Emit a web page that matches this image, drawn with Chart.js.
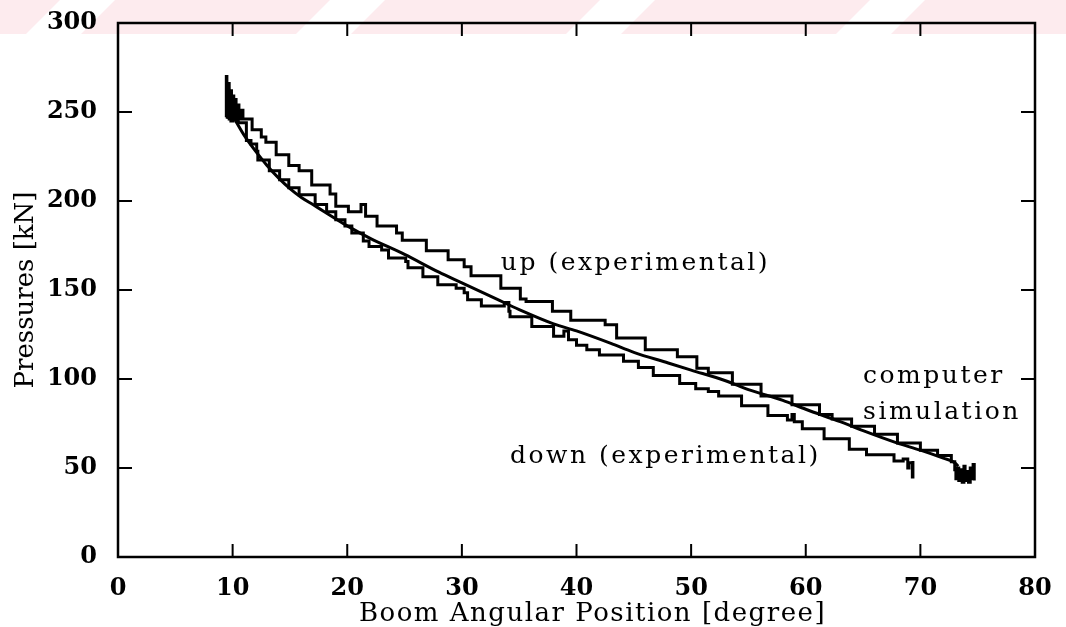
<!DOCTYPE html>
<html>
<head>
<meta charset="utf-8">
<script src="https://cdn.jsdelivr.net/npm/chart.js@4.4.1/dist/chart.umd.min.js"></script>
<style>
  html, body { margin: 0; padding: 0; background: #fff; }
  #wrap { width: 1066px; height: 627px; position: relative; }
</style>
</head>
<body>
<div id="wrap"><canvas id="grafica"></canvas></div>
<script>
// --- DATOS ---
const xTicks = [0, 10, 20, 30, 40, 50, 60, 70, 80];
const yTicks = [0, 50, 100, 150, 200, 250, 300];

// simulación (curva suave)
const simX = [10, 11, 12, 13, 14, 15, 16, 17, 18, 20, 22, 25, 28, 30, 33, 35, 38, 40, 43, 45, 48, 50, 53, 55, 58, 60, 63, 65, 68, 70, 72, 73, 73.3];
const simY = [248, 237, 228, 220, 213, 207, 202, 198, 194, 186, 179, 170, 160, 154, 145, 139, 131, 127, 120, 115, 109, 105, 99, 94, 88, 83, 76, 71, 64, 60, 55.5, 53, 51];

// subida (experimental) - escalones: x donde cambia, nuevo nivel
const upX = [9.4, 9.45, 9.5, 9.6, 9.7, 9.8, 9.9, 10.0, 10.1, 10.2, 10.3, 10.45, 10.55, 10.7, 10.9,
  11.7, 12.5, 12.9, 13.8, 14.9, 15.8, 16.9, 18.5, 19.0, 20.1, 21.2, 21.6, 22.6, 24.3, 24.8, 26.9,
  28.8, 30.2, 30.8, 33.4, 35.1, 35.6, 37.9, 39.5, 42.5, 43.5, 46.0, 48.8, 50.5, 51.5, 53.6, 56.1,
  58.8, 61.2, 62.3, 64, 66, 68, 70, 71.5, 72.7, 73.0, 73.1, 73.2, 73.35, 73.5, 73.65, 73.8, 73.9,
  74.05, 74.2, 74.35, 74.5, 74.6, 74.7];
const upY = [247, 270, 249, 266, 246, 262, 248, 259, 246, 257, 245, 254, 246, 251, 246,
  240, 236, 233, 226, 220, 217, 209, 204, 197, 194, 198, 191.5, 186, 182, 178, 172,
  167, 163, 158, 151, 145, 143.5, 138, 133, 130.5, 123, 116.5, 112.5, 106, 103.5, 97, 90.5,
  85.5, 80, 77.5, 73.5, 69, 64, 60, 57, 53.5, 49, 44, 50, 43, 49, 42, 51, 43,
  48, 42, 50, 44, 52, 43];

// bajada (experimental)
const downX = [9.5, 9.55, 9.65, 9.75, 9.85, 10.0, 10.1, 10.25, 10.4,
  10.5, 11.2, 11.6, 12.1, 12.2, 13.2, 14.1, 14.9, 15.8, 17.2, 18.2, 19.0, 19.8, 20.4, 21.4, 21.9,
  23.0, 23.6, 25.1, 25.3, 26.6, 27.9, 29.5, 30.2, 30.5, 31.7, 33.7, 34.1, 34.2, 36.1, 38.0, 38.9,
  39.3, 40.0, 40.9, 42.0, 44.1, 45.4, 46.7, 49.0, 50.4, 51.5, 52.4, 54.4, 56.7, 58.4, 58.8, 59.0,
  59.7, 61.6, 63.8, 65.3, 67.7, 68.5, 68.9, 69.0, 69.3, 69.35];
const downY = [250, 263, 247, 258, 245, 255, 247, 252, 244.5,
  244, 234, 232, 228, 223, 217, 212, 207.5, 203.5, 198, 194, 189.5, 186, 182, 177.5, 174.5,
  172.5, 168, 166, 162.5, 157.5, 153, 151, 148.5, 144.5, 141, 143, 138, 135, 129.5, 124, 127,
  122, 119, 116.5, 113.5, 110, 106.5, 102, 97.5, 94.5, 93, 90.5, 85, 79.5, 77, 80, 76,
  72, 66.5, 60.5, 57.5, 54, 55, 50, 53, 45, 54];

// textos dentro del gráfico: [texto, x, y]
const etiquetas = [
  ['up (experimental)', 33.4, 161.5],
  ['computer', 65.0, 98],
  ['simulation', 65.0, 77.7],
  ['down (experimental)', 34.2, 53]
];

const aPuntos = (xs, ys) => xs.map((x, i) => ({ x: x, y: ys[i] }));

const SERIF = '"DejaVu Serif", "Liberation Serif", serif';

// --- PLUGIN: marco, ticks hacia dentro, textos ---
const marcoPlugin = {
  id: 'marco',
  beforeDraw(chart) {
    const ctx = chart.ctx;
    ctx.save();
    // banda rosada tenue arriba
    ctx.fillStyle = '#fdebee';
    ctx.fillRect(0, 0, chart.width, 34);
    ctx.fillStyle = '#ffffff';
    for (let x0 = 60; x0 < chart.width + 60; x0 += 270) {
      ctx.beginPath();
      ctx.moveTo(x0, 0);
      ctx.lineTo(x0 + 55, 0);
      ctx.lineTo(x0 + 21, 34);
      ctx.lineTo(x0 - 34, 34);
      ctx.closePath();
      ctx.fill();
    }
    ctx.restore();
  },
  afterDatasetsDraw(chart) {
    const { ctx, chartArea: a, scales } = chart;
    ctx.save();
    ctx.strokeStyle = '#000';
    ctx.lineWidth = 2.5;
    ctx.strokeRect(a.left, a.top, a.right - a.left, a.bottom - a.top);
    ctx.lineWidth = 2;
    ctx.beginPath();
    xTicks.forEach(v => {
      const px = scales.x.getPixelForValue(v);
      ctx.moveTo(px, a.bottom); ctx.lineTo(px, a.bottom - 13);
      ctx.moveTo(px, a.top); ctx.lineTo(px, a.top + 13);
    });
    yTicks.forEach(v => {
      const py = scales.y.getPixelForValue(v);
      ctx.moveTo(a.left, py); ctx.lineTo(a.left + 14, py);
      ctx.moveTo(a.right, py); ctx.lineTo(a.right - 14, py);
    });
    ctx.stroke();

    ctx.fillStyle = '#000';
    ctx.font = '25px ' + SERIF;
    ctx.letterSpacing = '2.5px';
    ctx.textAlign = 'left';
    ctx.textBaseline = 'alphabetic';
    etiquetas.forEach(([t, x, y]) => {
      ctx.fillText(t, scales.x.getPixelForValue(x), scales.y.getPixelForValue(y));
    });
    ctx.restore();
  },
  afterDraw(chart) {
    const { ctx, chartArea: a } = chart;
    ctx.save();
    ctx.fillStyle = '#000';
    ctx.font = '26px ' + SERIF;
    ctx.textAlign = 'center';
    ctx.textBaseline = 'alphabetic';
    ctx.letterSpacing = '1.5px';
    ctx.fillText('Boom Angular Position [degree]', (a.left + a.right) / 2 + 16, 621);
    ctx.letterSpacing = '0px';
    ctx.translate(33, (a.top + a.bottom) / 2);
    ctx.rotate(-Math.PI / 2);
    ctx.fillText('Pressures [kN]', 0, 0);
    ctx.restore();
  }
};

const lineaBase = {
  borderColor: '#000',
  borderWidth: 3,
  pointRadius: 0,
  showLine: true,
  fill: false
};

new Chart(document.getElementById('grafica').getContext('2d'), {
  type: 'scatter',
  data: {
    datasets: [
      Object.assign({ label: 'up (experimental)', data: aPuntos(upX, upY), stepped: true }, lineaBase),
      Object.assign({ label: 'down (experimental)', data: aPuntos(downX, downY), stepped: true }, lineaBase),
      Object.assign({ label: 'computer simulation', data: aPuntos(simX, simY), tension: 0.3, cubicInterpolationMode: 'monotone' }, lineaBase)
    ]
  },
  options: {
    responsive: true,
    maintainAspectRatio: false,
    animation: false,
    layout: { padding: { left: 0, right: 31, top: 23, bottom: 0 } },
    plugins: {
      legend: { display: false },
      tooltip: { enabled: false }
    },
    scales: {
      x: {
        type: 'linear',
        min: 0, max: 80,
        grid: { display: false, drawTicks: false },
        border: { display: false },
        afterBuildTicks: s => { s.ticks = xTicks.map(v => ({ value: v })); },
        afterFit: s => { s.height = 70; s.paddingLeft = 0; s.paddingRight = 0; },
        ticks: {
          padding: 17,
          color: '#000',
          font: { family: SERIF, size: 24, weight: 'bold' },
          maxRotation: 0
        }
      },
      y: {
        type: 'linear',
        min: 0, max: 300,
        grid: { display: false, drawTicks: false },
        border: { display: false },
        afterBuildTicks: s => { s.ticks = yTicks.map(v => ({ value: v })); },
        afterFit: s => { s.width = 118; s.paddingTop = 0; s.paddingBottom = 0; },
        ticks: {
          padding: 21,
          color: '#000',
          font: { family: SERIF, size: 24, weight: 'bold' }
        }
      }
    }
  },
  plugins: [marcoPlugin]
});
</script>
</body>
</html>
